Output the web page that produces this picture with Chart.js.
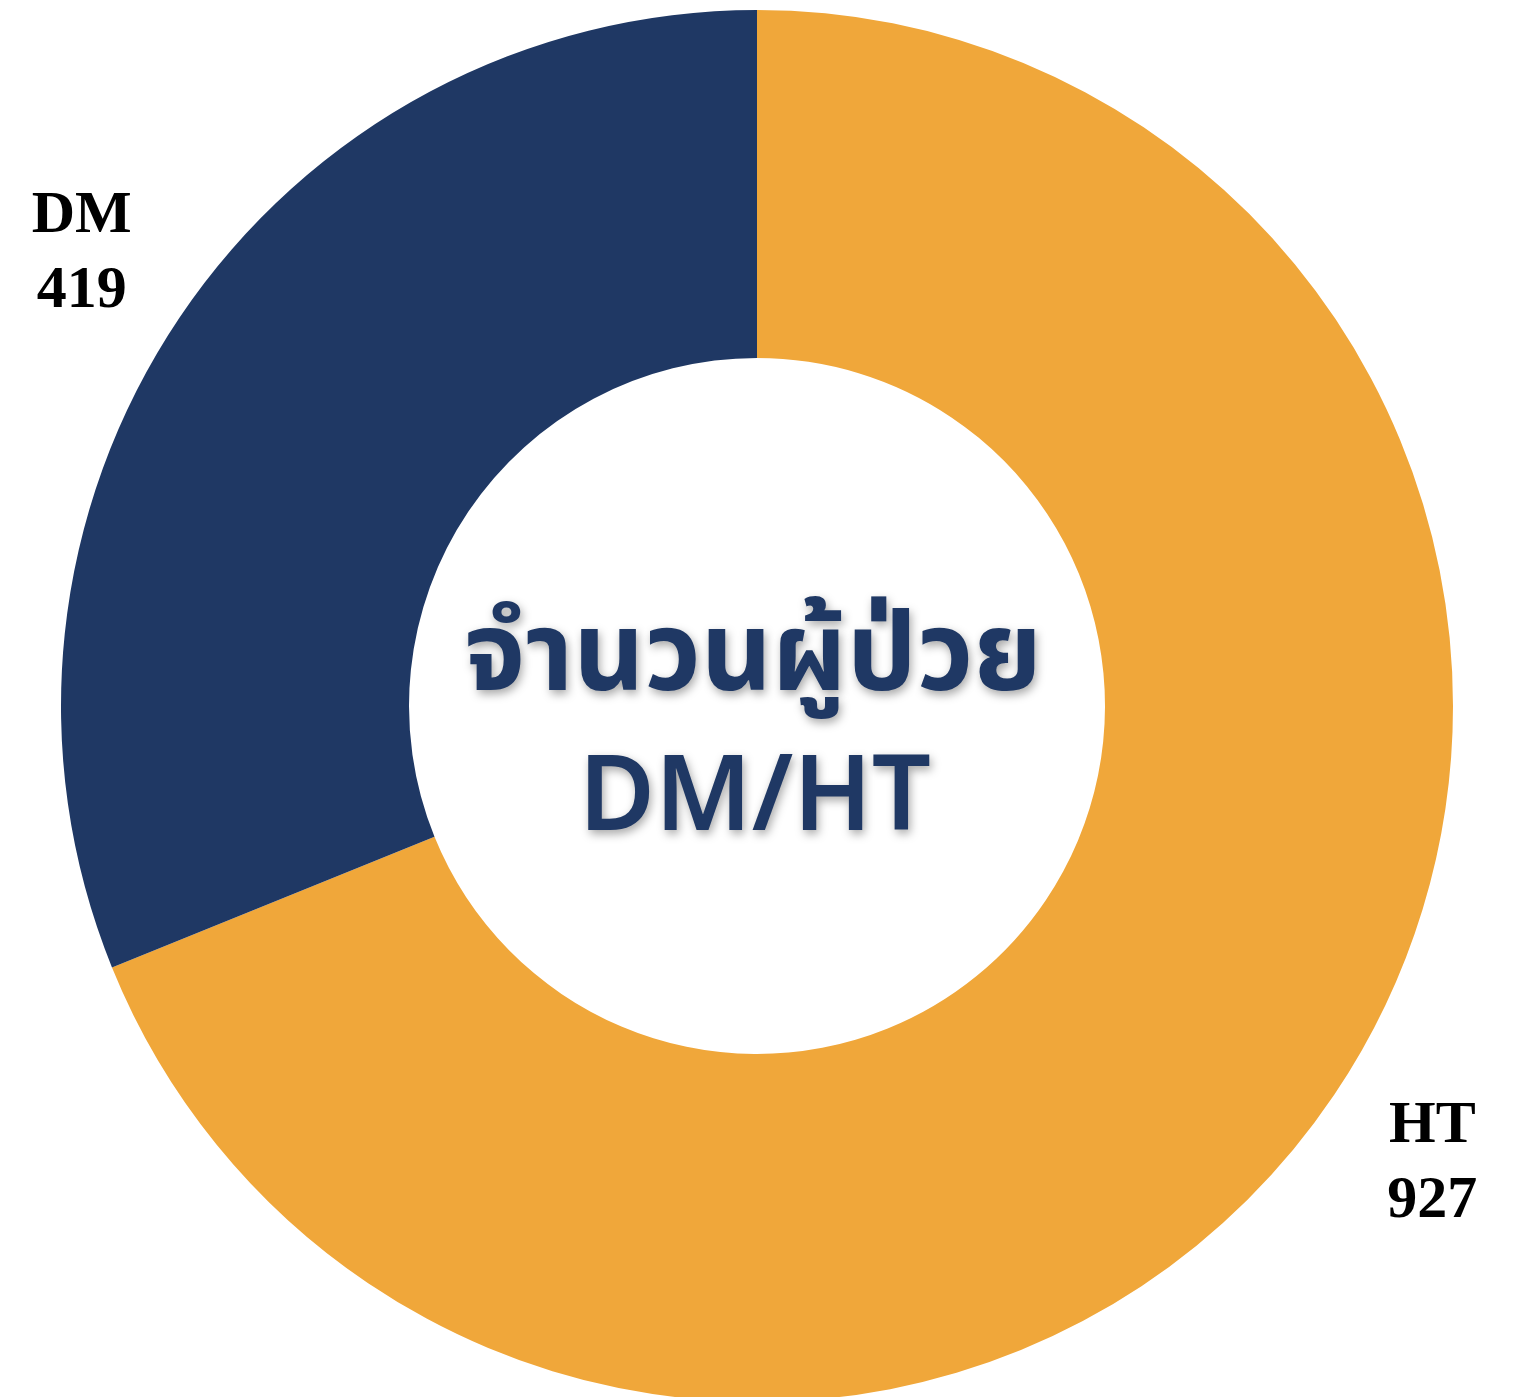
<!DOCTYPE html>
<html>
<head>
<meta charset="utf-8">
<script src="https://cdn.jsdelivr.net/npm/chart.js@4.4.1/dist/chart.umd.min.js"></script>
<style>
  html, body { margin: 0; padding: 0; background: #ffffff; overflow: hidden; }
  #wrap { position: absolute; left: 0; top: 0; width: 1519px; height: 1412px; }
</style>
</head>
<body>
<div id="wrap"><canvas id="c" width="1519" height="1412"></canvas></div>
<script>
const categories = ["HT", "DM"];
const patients = [927, 419];
const sliceColors = ["#F0A73A", "#1F3864"];
const centerLines = ["จำนวนผู้ป่วย", "DM/HT"];

const labelPlugin = {
  id: 'outerLabels',
  afterDraw(chart) {
    const ctx = chart.ctx;
    const meta = chart.getDatasetMeta(0);
    ctx.save();
    meta.data.forEach((arc, i) => {
      const p = arc.getProps(['x', 'y', 'startAngle', 'endAngle', 'outerRadius'], true);
      const mid = (p.startAngle + p.endAngle) / 2;
      const r = p.outerRadius * 1.17;
      const cx = p.x + Math.cos(mid) * r;
      const cy = p.y + Math.sin(mid) * r;
      ctx.fillStyle = '#000000';
      ctx.font = 'bold 60px "Liberation Serif", "Times New Roman", serif';
      ctx.textAlign = 'center';
      ctx.textBaseline = 'alphabetic';
      ctx.fillText(chart.data.labels[i], cx, cy - 19);
      ctx.fillText(String(chart.data.datasets[0].data[i]), cx, cy + 56);
    });
    // center text
    const a = meta.data[0];
    const cx = a.x, cy = a.y;
    ctx.shadowColor = 'rgba(0,0,0,0.35)';
    ctx.shadowBlur = 10;
    ctx.shadowOffsetX = 2;
    ctx.shadowOffsetY = 4;
    ctx.fillStyle = '#1F3864';
    ctx.textAlign = 'center';
    ctx.font = '700 110px "Noto Sans Thai", "Noto Sans Thai UI", "Noto Sans", sans-serif';
    ctx.fillText(centerLines[0], cx - 4, cy - 16);
    ctx.font = '600 104px "Noto Sans", sans-serif';
    ctx.fillText(centerLines[1], cx - 2, cy + 124);
    ctx.restore();
  }
};

new Chart(document.getElementById('c'), {
  type: 'doughnut',
  data: {
    labels: categories,
    datasets: [{
      data: patients,
      backgroundColor: sliceColors,
      borderWidth: 0,
      hoverOffset: 0
    }]
  },
  options: {
    responsive: false,
    animation: false,
    cutout: '50%',
    layout: { padding: { left: 61, right: 66, top: 10, bottom: 10 } },
    plugins: {
      legend: { display: false },
      tooltip: { enabled: false }
    }
  },
  plugins: [labelPlugin]
});
</script>
</body>
</html>
